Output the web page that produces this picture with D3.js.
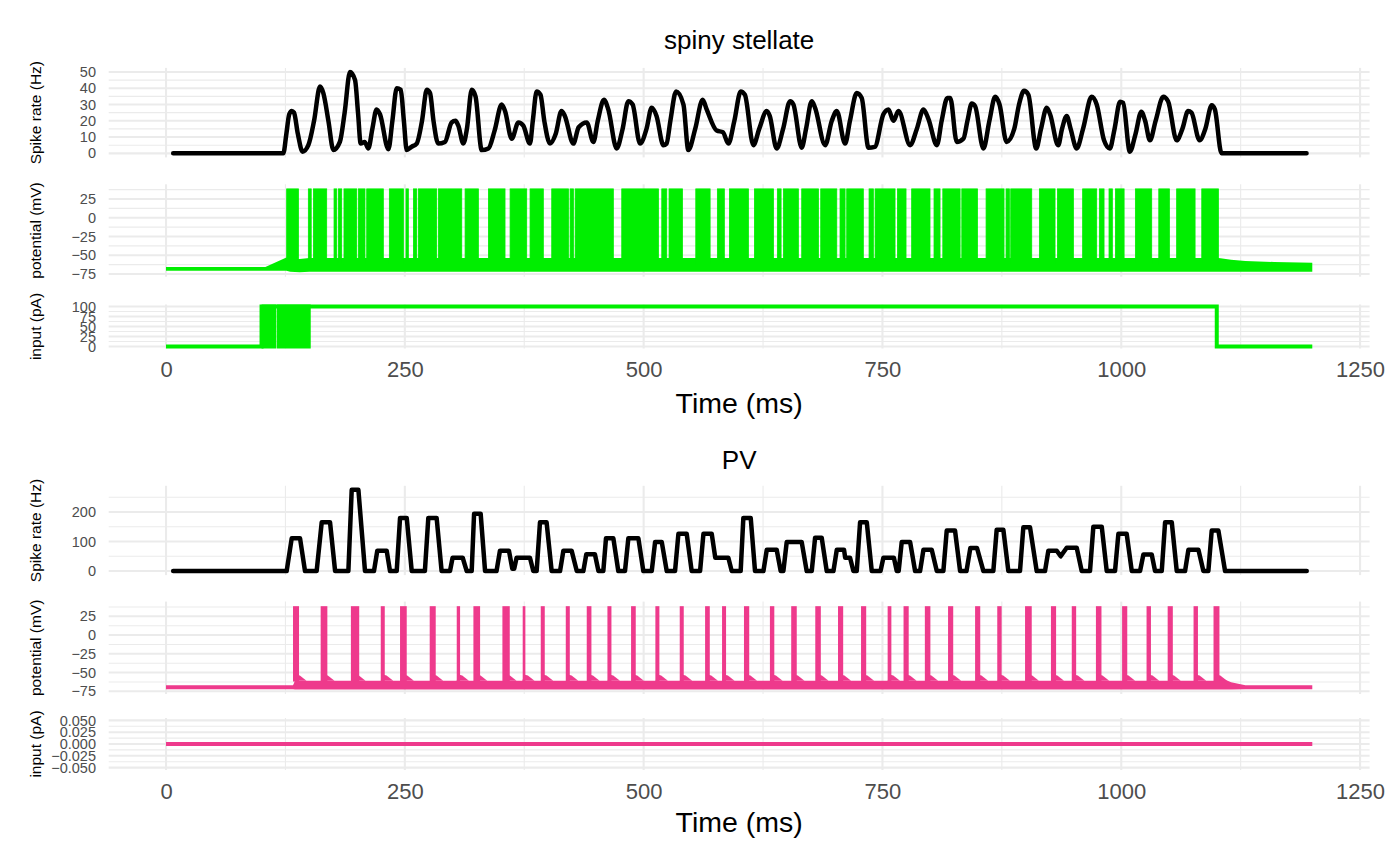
<!DOCTYPE html>
<html><head><meta charset="utf-8">
<script src="https://cdn.jsdelivr.net/npm/d3@7"></script>
<style>body{margin:0;background:#fff} text{font-family:"Liberation Sans",Arial,Helvetica,sans-serif}</style>
</head><body><svg id="c" width="1400" height="865"></svg>
<script>
// ---------- DATA ----------
const xTicks = [0, 250, 500, 750, 1000, 1250];
const xMinor = [125, 375, 625, 875, 1125];

// spiny stellate spike rate (ms, Hz)
const ssRateT = [7.5,122.8,126,129,131.6,134,138,143,149,155,161.2,164.7,170,175.2,182,187,192.6,197.9,201,203.8,208,211.8,216,220.5,224,232.8,237,241.5,245.7,249,252,257,262.4,268,273,276.4,280,285,292,299,303,306,311.3,315,320,324,330.5,337.5,344,351.4,354.9,361.9,368.9,374,381,384,388,392,396,402,408,414,417.5,426.4,432,440.4,447.4,452,458.5,463,471.8,478,484,488.5,496.2,503,508.4,513.5,520.7,524,528,534,541.7,546.8,554,561.8,566,576.5,583,588.7,595,601.6,606,614.9,621,628.9,632,639.3,646,653.3,656.8,665.5,670,676,679.5,690,697,702.2,710.9,716,723.1,728.3,735.4,742,751,756.3,761.5,766.8,779,786,793,798.2,807,812,818,821,827.8,834.8,839,843.5,847,855.7,862,868,872.6,880,888,893,898.3,902.8,911,916,922,925.5,934,938,942.9,947,953.4,960,969,974.3,982,988,993,998.7,1002,1009,1015,1021,1025,1030,1036,1044,1049,1058,1064,1070,1073.5,1082,1088,1094.7,1098,1105,1194];
const ssRateV = [0,0,12,24,26,25,12,1,5,20,41,37,20,2,7,25,50,45,25,6,7,3,15,27,24,2.5,20,40,39,20,2,4,6,20,39,37,20,6,7,19,20,17,6,15,39,35,2,3,14,30,26,9,19,17,6,20,38,36,20,6,12,26,23,6,16,19,7,20,33,27,3,15,32,30,6,15,28,23,5,6,20,38,30,2,15,33,27,14,13,6,20,38,36,5,15,26,23,3,15,32,30,3.5,15,32,28,5,20,26,6,20,37,34,3.5,4,24,27,20,26,5,15,27,21,5,20,34,34,7,9,20,30.6,29,3,20,34.7,30,7,15,30,38.4,36,3,15,28,24,5,15,23,15,3,15,34.7,30,8,3,15,31.7,31,1,12,25.6,20,8,20,34.7,32,8,15,26,25,8,15,29.5,27,0,0];

// spiny stellate membrane potential: intervals with dense spiking (ms)
const ssSpikeStart = [126.3,149,154.3,175.9,180.4,186.3,201.3,210.1,233.8,251.2,259,264.2,285.2,313.1,337.5,360.2,381.1,403.8,423,428.3,477.1,519,526.6,554.6,577.2,589.8,616,640,646.3,665.5,685.4,705.6,712.6,736,742.3,765.7,780.6,804,813.2,833.1,858.5,879.4,884.3,914.3,933.2,959.6,977.1,987.2,993.9,1014.8,1039.3,1058,1084.3];
const ssSpikeEnd   = [138.6,152,168.2,178.7,183.9,199.6,208.3,227.5,248.5,253.7,262.5,283.4,309.6,327,354.9,377.6,395,421.3,426.5,468.3,515.5,524.2,540.6,569.6,584.5,609.7,635.9,643.9,662,683,702.2,710.9,730,740.5,763.2,774.7,799.8,810.3,831.3,849.5,877.3,882.9,906.3,930.7,949.9,974.3,982,990.7,1003,1031.9,1050.4,1077.3,1101.7];
const ssSpikePeak = 38.5;
// sub-threshold envelope (ms, mV)
const ssBaseT  = [0,104,126,130,140,150,1101.7,1104,1115,1130,1160,1200];
const ssBaseHi = [-65.5,-65.5,-53,-55,-55,-53.5,-53.5,-54,-56,-57.5,-59,-60];
const ssBaseLo = [-70.7,-70.7,-70.7,-72,-72.5,-72,-72,-72,-72,-72,-72,-72];

// spiny stellate input current (ms, pA)
const ssInputT = [0,100,100,1100,1100,1200];
const ssInputV = [0,0,100,100,0,0];
const ssNoiseStart = [100,116.2];
const ssNoiseEnd   = [115.6,151.5];

// PV spike rate (ms, Hz)
const pvRateT = [7.5,126.3,131.6,140.3,145.5,157.7,163,171.7,177,190.9,194.4,201.4,208.3,217.7,221.2,231,234.5,241.5,245,252,257.2,271,274.6,283.3,288.5,297.3,300,310.6,314.8,320,322.5,329.4,334,346,349.6,359,362.5,364.5,367,381,384.5,388,391.5,398.4,403.7,412.5,416,424.6,430,436.9,440,449,452.7,457.8,460.6,468.3,473.5,480.5,484,494.5,499.7,508.5,512,519,524.2,532.9,536.4,545.1,550.3,559.1,562.6,571.3,575,588.7,592.2,601.6,604.4,612.1,616.6,625.4,628.9,639.3,643.5,646.3,649.8,665.5,670.7,676,679.5,686.4,691.7,698.7,702.2,709.8,711,716.1,719.6,723.1,726.6,733.6,738.8,748,751,762,765,767,770.2,779,784.2,789.4,792.9,801.6,806.9,813.8,817.3,826,831.3,838,842,849,855.7,866.1,869.6,876.6,881.8,894,897.5,904.5,911.5,920.2,923.7,932.5,936.6,942.9,953.4,958.6,967.3,970.8,979.6,984.8,993.5,997,1005.7,1011,1019.7,1023.2,1031.9,1035.4,1042.4,1045.9,1052.9,1058.1,1066.8,1070.3,1080.8,1086,1091.2,1094.7,1101.7,1108.7,1194.2];
const pvRateV = [0,0,111,111,0,0,165,165,0,0,275,275,0,0,69,69,0,0,180,180,0,0,180,180,0,0,45,45,0,0,194,194,0,0,69,69,8,8,45,45,0,0,165,165,0,0,69,69,0,0,57,57,0,0,111,111,0,0,111,111,0,0,98,98,0,0,126,126,0,0,126,126,45,45,0,0,180,180,0,0,72,72,0,0,98,98,0,0,113,113,0,0,72,72,45,45,0,0,165,165,0,0,45,45,0,0,98,98,0,0,72,72,0,0,137,137,0,0,78,78,0,0,140,140,0,0,148,148,0,0,69,69,50,79,79,0,0,150,150,0,0,126,126,0,0,56,56,0,0,165,165,0,0,72,72,0,0,137,137,0,0];

// PV membrane potential: spike times and cluster widths (ms)
const pvSpikeT = [136.1,165.4,197.9,226.9,248.5,279.2,306.1,325.3,356,374.8,394.4,420.6,442.9,464.2,489.3,514.4,539.9,566.8,584.2,607.8,634.5,657.4,682.6,706.2,730.3,757.4,774.8,797.3,821.4,849.7,872.5,902.8,929.1,950.5,976.4,1003.6,1028.8,1051.3,1078,1099.7];
const pvSpikeW = [6.3,7,8.7,4.2,7,6.3,3.5,7,7.7,2.8,4.2,4.2,4.9,4.2,4.9,4.2,4.2,4.9,4.2,5.5,4.6,5.8,5.8,5.4,5.4,3.9,5.4,5.8,5.4,5.4,4.6,7,5.4,4.6,5.8,5.4,4.6,5.4,4.6,6.2];
const pvSpikePeak = 38.5;
const pvBaseT  = [0,133,135,1100,1106,1115,1130,1200];
const pvBaseHi = [-67,-67,-61,-61,-58,-63,-67,-67];
const pvBaseLo = [-72.4,-72.4,-72.5,-72.5,-72.5,-72.5,-72.4,-72.4];

// PV input current (ms, pA)
const pvInputT = [0,1200];
const pvInputV = [0,0];

// axis ticks
const ssRateTicks = [0,10,20,30,40,50];
const potTicks = [-75,-50,-25,0,25];
const ssInputTicks = [0,25,50,75,100];
const pvRateTicks = [0,100,200];
const pvInputTicks = [-0.05,-0.025,0,0.025,0.05];

// ---------- DRAW ----------
const svg = d3.select('#c');
const GREEN = '#00ee00', PINK = '#ee3a8c';
const X0 = 108.7, X1 = 1369.6;
const FONT = '"Liberation Sans",Arial,sans-serif';
const x = d3.scaleLinear().domain([-60,1260]).range([X0,X1]);

function mids(t){ const m=[]; for(let i=0;i<t.length-1;i++) m.push((t[i]+t[i+1])/2); return m; }

function panel(domain, range, ticks, fmt, title, extraMinor){
  const y = d3.scaleLinear().domain(domain).range(range);
  const g = svg.append('g');
  const step = ticks[1]-ticks[0];
  let minor = mids(ticks);
  if (extraMinor) minor = minor.concat([ticks[ticks.length-1]+step/2].filter(v=>v<=domain[1]), [ticks[0]-step/2].filter(v=>v>=domain[0]));
  g.selectAll('.hm').data(minor).enter().append('line')
    .attr('x1',X0).attr('x2',X1).attr('y1',d=>y(d)).attr('y2',d=>y(d))
    .attr('stroke','#ebebeb').attr('stroke-width',1.1);
  g.selectAll('.vm').data(xMinor).enter().append('line')
    .attr('x1',d=>x(d)).attr('x2',d=>x(d)).attr('y1',range[0]).attr('y2',range[1])
    .attr('stroke','#ebebeb').attr('stroke-width',1.1);
  g.selectAll('.hM').data(ticks).enter().append('line')
    .attr('x1',X0).attr('x2',X1).attr('y1',d=>y(d)).attr('y2',d=>y(d))
    .attr('stroke','#ebebeb').attr('stroke-width',2.1);
  g.selectAll('.vM').data(xTicks).enter().append('line')
    .attr('x1',d=>x(d)).attr('x2',d=>x(d)).attr('y1',range[0]).attr('y2',range[1])
    .attr('stroke','#ebebeb').attr('stroke-width',2.1);
  const ax = svg.append('g').attr('transform',`translate(${X0},0)`)
    .call(d3.axisLeft(y).tickValues(ticks).tickFormat(fmt).tickSize(0).tickPadding(12.7));
  ax.select('.domain').remove();
  ax.selectAll('text').attr('font-size',14.5).attr('fill','#4d4d4d').style('font-family',FONT);
  svg.append('text').attr('transform',`translate(35.5,${(range[0]+range[1])/2}) rotate(-90)`)
    .attr('text-anchor','middle').attr('dy','0.35em').attr('font-size',15.5).attr('fill','#000').text(title);
  return y;
}

function xAxis(yTop, labelY){
  const ax = svg.append('g').attr('transform',`translate(0,${yTop})`)
    .call(d3.axisBottom(x).tickValues(xTicks).tickFormat(d3.format('d')).tickSize(0).tickPadding(13));
  ax.select('.domain').remove();
  ax.selectAll('text').attr('font-size',22).attr('fill','#4d4d4d').style('font-family',FONT);
  svg.append('text').attr('x',(X0+X1)/2).attr('y',labelY).attr('dy','0.35em')
    .attr('text-anchor','middle').attr('font-size',28.5).attr('fill','#000').text('Time (ms)');
}

function title(txt, cy){
  svg.append('text').attr('x',(X0+X1)/2).attr('y',cy).attr('dy','0.35em')
    .attr('text-anchor','middle').attr('font-size',26).attr('fill','#000').text(txt);
}

const lineOf = (T,V,y,curve)=> d3.line().curve(curve||d3.curveLinear).x((d,i)=>x(T[i])).y((d,i)=>y(V[i]))(T);
const areaOf = (T,Hi,Lo,y)=> d3.area().x((d,i)=>x(T[i])).y0((d,i)=>y(Lo[i])).y1((d,i)=>y(Hi[i]))(T);

// ===== spiny stellate =====
title('spiny stellate', 40);
const y1 = panel([-2.5,52.5],[157.4,67.9], ssRateTicks, d3.format('d'), 'Spike rate (Hz)', true);
svg.append('path').attr('d',lineOf(ssRateT,ssRateV,y1,d3.curveMonotoneX)).attr('fill','none')
  .attr('stroke','#000').attr('stroke-width',4.5).attr('stroke-linejoin','round').attr('stroke-linecap','round');

const y2 = panel([-78.6,44.6],[276.7,184.3], potTicks, d3.format('d'), 'potential (mV)', true);
svg.append('path').attr('d',areaOf(ssBaseT,ssBaseHi,ssBaseLo,y2)).attr('fill',GREEN);
svg.append('g').selectAll('rect').data(ssSpikeStart).enter().append('rect')
  .attr('x',(d,i)=>x(d)).attr('width',(d,i)=>Math.max(1.5,x(ssSpikeEnd[i])-x(d)))
  .attr('y',y2(ssSpikePeak)).attr('height',y2(-62)-y2(ssSpikePeak))
  .attr('fill',GREEN).attr('stroke',GREEN).attr('stroke-width',0.8);

const y3 = panel([-5,105],[348.5,304.5], ssInputTicks, d3.format('d'), 'input (pA)', false);
svg.append('g').selectAll('rect').data(ssNoiseStart).enter().append('rect')
  .attr('x',d=>x(d)).attr('width',(d,i)=>x(ssNoiseEnd[i])-x(d))
  .attr('y',y3(100)-2).attr('height',y3(0)-y3(100)+4).attr('fill',GREEN);
svg.append('path').attr('d',lineOf(ssInputT,ssInputV,y3)).attr('fill','none')
  .attr('stroke',GREEN).attr('stroke-width',4);
xAxis(348.5, 403);

// ===== PV =====
title('PV', 460);
const y4 = panel([-13.75,288.75],[575.1,485.8], pvRateTicks, d3.format('d'), 'Spike rate (Hz)', true);
svg.append('path').attr('d',lineOf(pvRateT,pvRateV,y4)).attr('fill','none')
  .attr('stroke','#000').attr('stroke-width',4.5).attr('stroke-linejoin','round').attr('stroke-linecap','round');

const y5 = panel([-78.6,44.6],[694,601.6], potTicks, d3.format('d'), 'potential (mV)', true);
svg.append('path').attr('d',areaOf(pvBaseT,pvBaseHi,pvBaseLo,y5)).attr('fill',PINK);
svg.append('g').selectAll('path').data(pvSpikeT).enter().append('path')
  .attr('d',d=>`M${x(d-2)},${y5(-61)}L${x(d+1)},${y5(-53)}L${x(d+4)},${y5(-54)}L${x(d+11)},${y5(-61)}Z`)
  .attr('fill',PINK);
svg.append('g').selectAll('rect').data(pvSpikeT).enter().append('rect')
  .attr('x',(d,i)=>x(d-pvSpikeW[i]/2)).attr('width',(d,i)=>x(pvSpikeW[i])-x(0))
  .attr('y',y5(pvSpikePeak)).attr('height',y5(-62)-y5(pvSpikePeak)).attr('fill',PINK);

const y6 = panel([-0.055,0.055],[770,718], pvInputTicks, d3.format('.3f'), 'input (pA)', false);
svg.append('path').attr('d',lineOf(pvInputT,pvInputV,y6)).attr('fill','none')
  .attr('stroke',PINK).attr('stroke-width',4);
xAxis(770, 822);
</script></body></html>
